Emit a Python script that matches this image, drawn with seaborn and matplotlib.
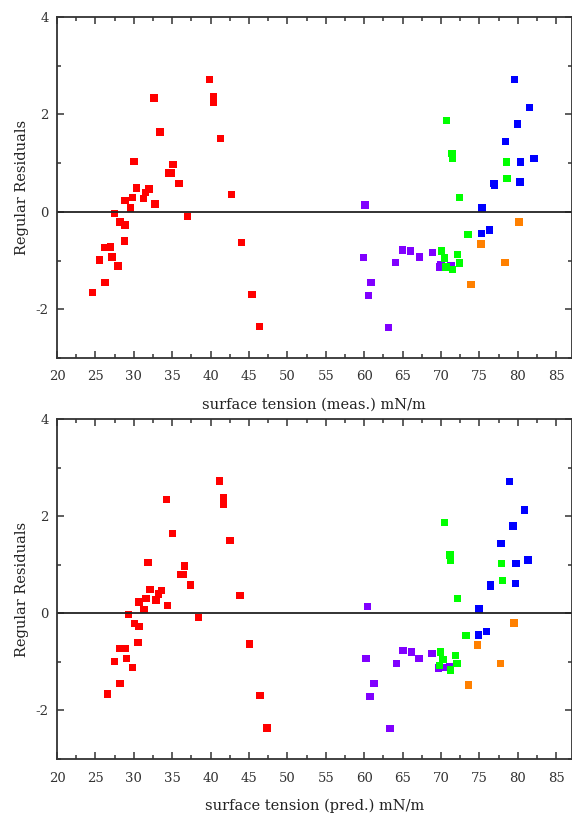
import matplotlib
matplotlib.use("Agg")
import matplotlib.pyplot as plt
from matplotlib.ticker import MultipleLocator
import seaborn as sns
import pandas as pd

# measured surface tension vs residuals (top panel)
red_meas_x = [24.6, 25.57, 26.26, 26.26, 26.96, 27.17, 27.48, 27.96, 28.22, 28.87, 28.78, 28.87,
              29.61, 29.83, 30.04, 30.35, 31.26, 31.52, 31.96, 32.65, 32.74, 33.43, 34.57, 34.87,
              35.09, 35.87, 37.0, 39.87, 40.39, 40.39, 41.26, 42.7, 44.0, 45.39, 46.39]
red_meas_y = [-1.66, -0.99, -1.45, -0.73, -0.72, -0.93, -0.03, -1.11, -0.21, -0.27, -0.6, 0.23,
              0.08, 0.3, 1.04, 0.49, 0.27, 0.4, 0.47, 2.34, 0.16, 1.64, 0.8, 0.8,
              0.97, 0.58, -0.09, 2.72, 2.37, 2.25, 1.5, 0.36, -0.63, -1.69, -2.36]
purple_meas_x = [60.09, 59.91, 60.91, 60.57, 63.13, 64.09, 64.96, 66.04, 67.17, 68.91, 69.83, 70.0, 71.3]
purple_meas_y = [0.14, -0.94, -1.45, -1.72, -2.38, -1.04, -0.78, -0.8, -0.93, -0.84, -1.13, -1.08, -1.1]
green_meas_x = [70.7, 71.43, 71.52, 72.43, 73.52, 70.09, 70.43, 70.65, 71.48, 72.17, 72.39, 78.52, 78.61]
green_meas_y = [1.87, 1.2, 1.1, 0.29, -0.47, -0.8, -0.95, -1.13, -1.18, -0.88, -1.05, 1.02, 0.68]
blue_meas_x = [79.57, 81.57, 80.0, 78.39, 80.35, 82.13, 76.91, 76.96, 80.3, 75.35, 75.3, 76.35]
blue_meas_y = [2.72, 2.14, 1.8, 1.44, 1.02, 1.1, 0.58, 0.54, 0.61, 0.08, -0.45, -0.37]
orange_meas_x = [80.17, 75.22, 78.35, 73.91]
orange_meas_y = [-0.21, -0.66, -1.04, -1.49]

# predicted surface tension vs residuals (bottom panel)
red_pred_x = [26.57, 27.52, 28.22, 28.22, 28.87, 29.04, 29.3, 29.83, 30.13, 30.7, 30.57, 30.7,
              31.35, 31.61, 31.83, 32.09, 32.91, 33.22, 33.65, 34.3, 34.39, 35.04, 36.17, 36.39,
              36.57, 37.35, 38.39, 41.17, 41.65, 41.65, 42.52, 43.83, 45.09, 46.43, 47.35]
red_pred_y = red_meas_y
purple_pred_x = [60.43, 60.22, 61.26, 60.78, 63.35, 64.22, 65.04, 66.13, 67.13, 68.83, 69.65, 70.35, 71.13]
purple_pred_y = [0.14, -0.93, -1.44, -1.71, -2.37, -1.04, -0.76, -0.8, -0.93, -0.83, -1.13, -1.12, -1.09]
green_pred_x = [70.48, 71.17, 71.26, 72.17, 73.26, 69.91, 70.26, 69.78, 71.26, 71.87, 72.09, 77.91, 78.0]
green_pred_y = [1.87, 1.2, 1.1, 0.3, -0.46, -0.8, -0.95, -1.08, -1.17, -0.87, -1.04, 1.03, 0.68]
blue_pred_x = [78.91, 80.87, 79.39, 77.83, 79.78, 81.35, 76.43, 76.48, 79.74, 74.96, 74.87, 75.91]
blue_pred_y = [2.71, 2.13, 1.8, 1.44, 1.03, 1.1, 0.58, 0.55, 0.61, 0.09, -0.45, -0.37]
orange_pred_x = [79.52, 74.78, 77.74, 73.57]
orange_pred_y = [-0.2, -0.65, -1.03, -1.48]

groups = ["red", "purple", "green", "blue", "orange"]
colors = {"red": "#FF0000", "purple": "#8000FF", "green": "#00FF00",
          "blue": "#0000FF", "orange": "#FF8000"}


def make_df(xs, ys):
    rows = []
    for g, x, y in zip(groups, xs, ys):
        for a, b in zip(x, y):
            rows.append({"x": a, "res": b, "group": g})
    return pd.DataFrame(rows)


df_meas = make_df([red_meas_x, purple_meas_x, green_meas_x, blue_meas_x, orange_meas_x],
                  [red_meas_y, purple_meas_y, green_meas_y, blue_meas_y, orange_meas_y])
df_pred = make_df([red_pred_x, purple_pred_x, green_pred_x, blue_pred_x, orange_pred_x],
                  [red_pred_y, purple_pred_y, green_pred_y, blue_pred_y, orange_pred_y])

sns.set_style("ticks")
plt.rcParams["font.family"] = ["DejaVu Serif"]
plt.rcParams["axes.unicode_minus"] = False

fig = plt.figure(figsize=(5.72, 8.18), dpi=100)
ax1 = fig.add_axes([57 / 572, 1 - 358 / 818, 514.5 / 572, 341 / 818])
ax2 = fig.add_axes([57 / 572, 1 - 759 / 818, 514.5 / 572, 340 / 818])

for ax, df, xlab in [(ax1, df_meas, "surface tension (meas.) mN/m"),
                     (ax2, df_pred, "surface tension (pred.) mN/m")]:
    sns.scatterplot(data=df, x="x", y="res", hue="group", palette=colors, hue_order=groups,
                    marker="s", s=28, linewidth=0, legend=False, ax=ax)
    ax.axhline(0, color="#222222", lw=1.3, zorder=1)
    ax.set_xlim(20, 87)
    ax.set_ylim(-3, 4)
    ax.xaxis.set_major_locator(MultipleLocator(5))
    ax.xaxis.set_minor_locator(MultipleLocator(2.5))
    ax.yaxis.set_major_locator(MultipleLocator(2))
    ax.yaxis.set_minor_locator(MultipleLocator(1))
    ax.tick_params(which="both", direction="in", top=True, right=True,
                   color="#333333", width=1.1, labelsize=9.5, labelcolor="#333333")
    ax.tick_params(which="major", length=5)
    ax.tick_params(which="minor", length=3)
    ax.tick_params(axis="x", pad=9)
    ax.tick_params(axis="y", pad=6)
    for sp in ax.spines.values():
        sp.set_color("#333333")
        sp.set_linewidth(1.3)
    ax.set_xlabel(xlab, fontsize=10.5, color="#222222", labelpad=10)
    ax.set_ylabel("Regular Residuals", fontsize=10.5, color="#222222", labelpad=5)

fig.savefig("out.png", dpi=100)
